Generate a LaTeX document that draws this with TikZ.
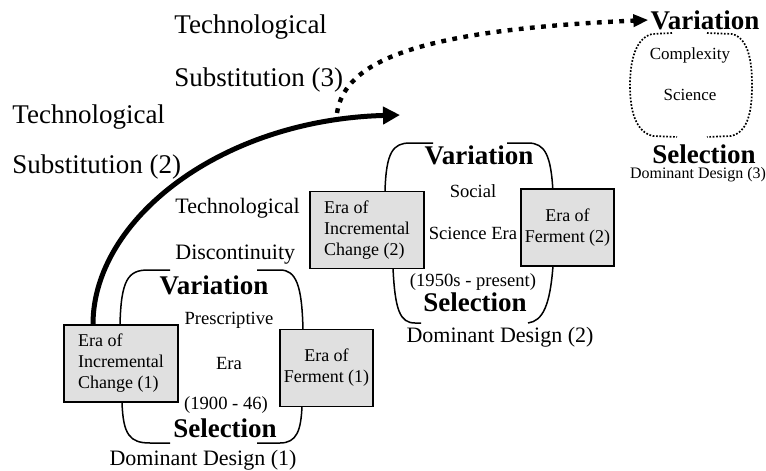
\documentclass[tikz,border=0pt]{standalone}
\usepackage{fontspec}
\setmainfont{Liberation Serif}
\usetikzlibrary{arrows.meta,positioning}

\definecolor{boxgray}{RGB}{224,224,224}

\begin{document}
\begin{tikzpicture}[x=0.5pt,y=-0.5pt,
  era/.style={rectangle,draw,line width=0.75pt,fill=boxgray,minimum width=57pt,minimum height=38.5pt,inner sep=2pt,font=\fontsize{9}{10.5}\selectfont},
  ferment/.style={era,minimum width=43.5pt,align=center},
  phase/.style={inner sep=1pt,font=\fontsize{13.5}{16}\selectfont\bfseries},
  big/.style={inner sep=1pt,anchor=west,font=\fontsize{13.5}{16}\selectfont},
  mid/.style={inner sep=1pt,font=\fontsize{11}{13}\selectfont},
  small/.style={inner sep=1pt,font=\fontsize{9.3}{11}\selectfont},
  loop/.style={line width=0.75pt},
  dotloop/.style={line width=0.85pt,dash pattern=on 0.85pt off 0.85pt}]
\useasboundingbox (0,0) rectangle (766,471);

% substitution labels
\node[big,name=tech3] at (172,27) {Technological};
\node[big,name=subst3] at (172,80) {Substitution (3)};
\node[big,name=tech2] at (10,117) {Technological};
\node[big,name=subst2] at (10,167) {Substitution (2)};

% first cycle brackets
\draw[loop] (120,325) .. controls (121,280) and (128,270) .. (148,270) -- (170,270);
\draw[loop] (257,270) -- (280,270) .. controls (296,270) and (302,285) .. (303,330);
\draw[loop] (122,402) .. controls (123,435) and (130,443) .. (150,443) -- (170,443);
\draw[loop] (257,443) -- (280,443) .. controls (297,443) and (301,430) .. (302,406);

% first cycle
\node[era,align=left,name=incr1] at (121,363.5) {Era of\\Incremental\\Change (1)};
\node[ferment,name=ferm1] at (326.5,368) {Era of\\Ferment (1)};
\node[mid,anchor=west,name=tech1] at (173,208) {Technological};
\node[mid,anchor=west,name=disc1] at (173,255) {Discontinuity};
\node[phase,name=var1] at (214,285) {Variation};
\node[small,name=presc] at (229,320) {Prescriptive};
\node[small,name=era1] at (229,363) {Era};
\node[small,name=years1] at (226,405) {(1900 - 46)};
\node[phase,name=sel1] at (225,428) {Selection};
\node[mid,name=dom1] at (203,460) {Dominant Design (1)};

% second cycle brackets
\draw[loop] (385,192) .. controls (386,152) and (393,143) .. (410,143) -- (433,143);
\draw[loop] (507,143) -- (528,143) .. controls (545,143) and (551,155) .. (553,192);
\draw[loop] (393,268) .. controls (395,310) and (400,323) .. (415,323) -- (421,323);
\draw[loop] (528,323) .. controls (543,321) and (550,305) .. (553,266);

% second cycle
\node[era,align=left,name=incr2] at (367,230) {Era of\\Incremental\\Change (2)};
\node[ferment,name=ferm2] at (567.5,227.5) {Era of\\Ferment (2)};
\node[phase,name=var2] at (479,155) {Variation};
\node[small,name=social] at (473,191) {Social};
\node[small,name=sci2] at (473,233) {Science Era};
\node[small,name=years2] at (473,282) {(1950s - present)};
\node[phase,name=sel2] at (475,302) {Selection};
\node[mid,name=dom2] at (500,337) {Dominant Design (2)};

% third cycle
\draw[dotloop] (672,33) -- (652,34) .. controls (636,38) and (630,60) .. (630,85) .. controls (630,112) and (636,132) .. (653,136) -- (677,137);
\draw[dotloop] (707,33) -- (732,34) .. controls (748,38) and (752,60) .. (752,85) .. controls (752,112) and (748,132) .. (731,136) -- (707,137);
\node[phase,name=var3] at (705,20) {Variation};
\node[inner sep=1pt,font=\fontsize{8.5}{10}\selectfont,name=cplx] at (690,55) {Complexity};
\node[inner sep=1pt,font=\fontsize{8.5}{10}\selectfont,name=sci3] at (690,95) {Science};
\node[phase,name=sel3] at (704,154) {Selection};
\node[inner sep=1pt,font=\fontsize{8}{10}\selectfont,name=dom3] at (698,175) {Dominant Design (3)};

% substitution arrows
\coordinate (subst2end) at (400,115);
\coordinate (subst3start) at (337,113);
\draw[line width=2.5pt,-{Triangle[length=8.5pt,width=8.5pt]}] ([xshift=-14pt]incr1.north) .. controls (93,220) and (220,120) .. (subst2end);
\draw[line width=2.2pt,dash pattern=on 2.4pt off 3.2pt,-{Triangle[length=7.5pt,width=6pt]}] (subst3start) .. controls (345,60) and (420,30) .. (var3.west);
\end{tikzpicture}
\end{document}
